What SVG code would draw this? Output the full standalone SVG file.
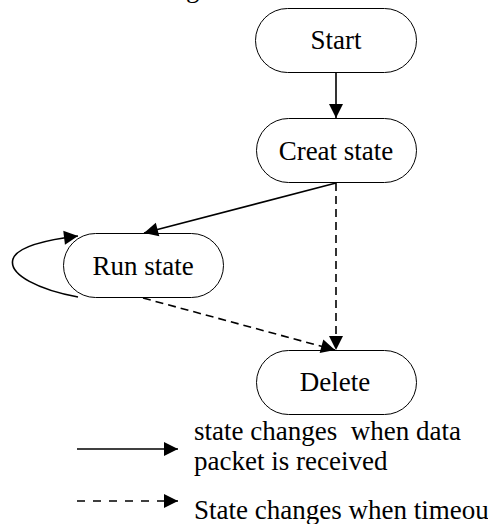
<svg xmlns="http://www.w3.org/2000/svg" width="488" height="524" viewBox="0 0 488 524" font-family="'Liberation Serif', 'DejaVu Serif', serif" font-size="27">
  <style>
    text { font-family: "Liberation Serif", "DejaVu Serif", serif; font-size: 27px; fill: #000000; white-space: pre; }
    .node rect { fill: #ffffff; stroke: #000000; stroke-width: 1; }
    .node text { text-anchor: middle; }
    .edge { fill: none; stroke: #000000; stroke-width: 1.6; }
    .dashed { stroke-dasharray: 8 5; }
    .legend-dash { stroke-dasharray: 8 8; }
  </style>
  <defs>
    <marker id="arrow" markerUnits="userSpaceOnUse" markerWidth="16" markerHeight="16" viewBox="0 0 16 16" refX="15" refY="8" orient="auto">
      <path d="M1,1 L15,8 L1,15 Z" fill="#000000"/>
    </marker>
  </defs>

  <rect width="488" height="524" fill="#ffffff"/>

  <!-- descender of the caption line above the figure -->
  <text x="186" y="-3">g</text>

  <g id="start" class="node">
    <rect x="255.5" y="8.5" width="161" height="64" rx="32" ry="32"/>
    <text x="336" y="49">Start</text>
  </g>

  <g id="creat-state" class="node">
    <rect x="256.5" y="118.5" width="160" height="64" rx="32" ry="32"/>
    <text x="336" y="160">Creat state</text>
  </g>

  <g id="run-state" class="node">
    <rect x="63.5" y="233.5" width="160" height="64" rx="32" ry="32"/>
    <text x="143" y="275">Run state</text>
  </g>

  <g id="delete" class="node">
    <rect x="256.5" y="350.5" width="160" height="64" rx="32" ry="32"/>
    <text x="335" y="391">Delete</text>
  </g>

  <g id="connectors">
    <line class="edge" x1="336" y1="73" x2="336" y2="118" marker-end="url(#arrow)"/>
    <line class="edge" x1="336" y1="183" x2="144" y2="233" marker-end="url(#arrow)"/>
    <line class="edge dashed" x1="336" y1="183" x2="336" y2="350" marker-end="url(#arrow)"/>
    <line class="edge dashed" x1="143" y1="298" x2="335" y2="350" marker-end="url(#arrow)"/>
    <path class="edge" d="M78,297 C40,290 8,275 13,259 C17,247 45,240 78,236" marker-end="url(#arrow)"/>
  </g>

  <g id="legend">
    <line class="edge" x1="77" y1="449" x2="178" y2="449" marker-end="url(#arrow)"/>
    <text x="194" y="440" xml:space="preserve">state changes  when data</text>
    <text x="194" y="470">packet is received</text>
    <line class="edge legend-dash" x1="77" y1="501" x2="178" y2="501" marker-end="url(#arrow)"/>
    <text x="194" y="519">State changes when timeout</text>
  </g>
</svg>
